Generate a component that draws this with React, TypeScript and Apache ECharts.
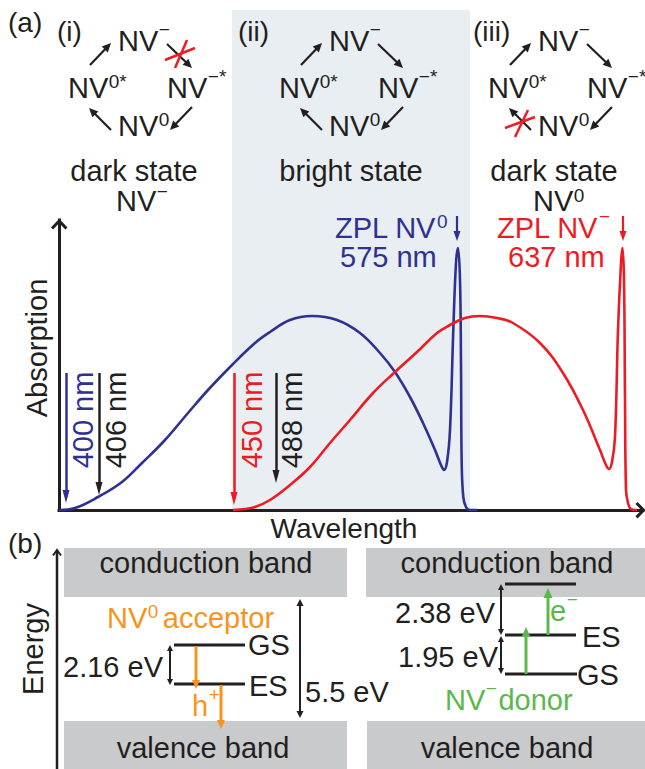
import React, { useEffect, useRef } from 'react';
import * as echarts from 'echarts';

// Schematic absorption spectra (x: position along the wavelength axis, y: absorption, arbitrary units)
const nv0X = [0, 16, 39, 63, 83, 106, 129, 149, 173, 196, 211, 231, 253, 278, 301, 321, 336, 351, 364, 376, 382, 385, 388, 391, 394.3, 397, 399, 401, 402, 402.7, 404.3, 407, 411, 418];
const nv0Y = [0, 2, 13, 28, 47, 70, 97, 120, 145, 167, 178, 190, 194, 190, 177, 157, 138, 113, 87, 60, 45, 40, 48, 80, 180, 247, 262, 230, 147, 47, 13, 3, 0, 0];
const nvmX = [174, 186, 196, 211, 231, 251, 271, 291, 314, 336, 358, 378, 391, 406, 421, 438, 454, 481, 504, 524, 541, 547, 550, 553, 556, 559, 562, 563.5, 565, 566, 567, 569, 572, 578];
const nvmY = [0, 1, 3, 10, 25, 43, 67, 90, 117, 138, 158, 177, 185, 192, 194, 192, 187, 167, 137, 100, 60, 45, 41, 48, 73, 180, 247, 262, 230, 113, 20, 7, 1, 0];

// excitation wavelength markers
const markerLabels = ['400 nm', '406 nm', '450 nm', '488 nm'];
const markerX = [7, 40, 175, 217];
const markerTop = [137, 137, 137, 137];
const markerTip = [7, 15, 5, 27];

const BLACK = '#231f20';
const BLUE = '#2e3192';
const RED = '#ed1c24';
const ORANGE = '#f7941d';
const GREEN = '#5bb84c';
const GRAY = '#c9cacc';
const SHADE = '#e8eef1';
const markerColors = [BLUE, BLACK, RED, BLACK];
const F = '"Liberation Sans", Arial, Helvetica, sans-serif';

let mctx: CanvasRenderingContext2D | null = null;
function mw(t: string, size: number) {
  if (!mctx) mctx = document.createElement('canvas').getContext('2d');
  mctx!.font = `${size}px "Liberation Sans", Arial, sans-serif`;
  return mctx!.measureText(t).width;
}

function T(x: number, y: number, text: string, opt: any = {}) {
  const size = opt.size || 29;
  return {
    type: 'text', x, y, rotation: opt.rot || 0, z: 20, silent: true,
    style: {
      text, fill: opt.color || BLACK, fontSize: size, fontFamily: F,
      align: opt.align || 'left', verticalAlign: 'middle', lineHeight: opt.lh || Math.round(size * 0.72),
    },
  };
}

function ST(x: number, y: number, main: string, sup: string, color = BLACK, after = '', gap = 4, size = 29, supSize = 19, riseOverride?: number) {
  const els: any[] = [T(x, y, main, { size, color })];
  const w = mw(main, size);
  const rise = riseOverride ?? (sup.startsWith('−') || sup === '+' ? 12 : 7);
  els.push(T(x + w + 0.5, y - rise, sup, { size: supSize, color, lh: 10 }));
  if (after) els.push(T(x + w + mw(sup, supSize) + gap, y, after, { size, color }));
  return els;
}

function L(x1: number, y1: number, x2: number, y2: number, color = BLACK, w = 2.5) {
  return { type: 'line', z: 15, silent: true, shape: { x1, y1, x2, y2 }, style: { stroke: color, lineWidth: w } };
}

function headPts(tx: number, ty: number, fx: number, fy: number, len: number, half: number) {
  const dx = tx - fx, dy = ty - fy;
  const d = Math.hypot(dx, dy);
  const ux = dx / d, uy = dy / d;
  const bx = tx - ux * len, by = ty - uy * len;
  return [[tx, ty], [bx - uy * half, by + ux * half], [bx + uy * half, by - ux * half]];
}

function arrow(x1: number, y1: number, x2: number, y2: number, color = BLACK, w = 2, len = 9, half = 4, both = false) {
  const d = Math.hypot(x2 - x1, y2 - y1);
  const ux = (x2 - x1) / d, uy = (y2 - y1) / d;
  const sx = both ? x1 + ux * len * 0.8 : x1, sy = both ? y1 + uy * len * 0.8 : y1;
  const ex = x2 - ux * len * 0.8, ey = y2 - uy * len * 0.8;
  const els: any[] = [L(sx, sy, ex, ey, color, w)];
  els.push({ type: 'polygon', z: 15, silent: true, shape: { points: headPts(x2, y2, x1, y1, len, half) }, style: { fill: color } });
  if (both) els.push({ type: 'polygon', z: 15, silent: true, shape: { points: headPts(x1, y1, x2, y2, len, half) }, style: { fill: color } });
  return els;
}

function cycle(dx: number) {
  const els: any[] = [];
  els.push(...ST(118 + dx, 41, 'NV', '−'));
  els.push(...ST(68 + dx, 88, 'NV', '0*'));
  els.push(...ST(167 + dx, 88, 'NV', '−*'));
  els.push(...ST(118 + dx, 126, 'NV', '0'));
  els.push(...arrow(90 + dx, 65, 111 + dx, 43, BLACK, 2.2, 9, 4.2));
  els.push(...arrow(167 + dx, 44, 192 + dx, 68, BLACK, 2.2, 9, 4.2));
  els.push(...arrow(192 + dx, 107, 170 + dx, 130, BLACK, 2.2, 9, 4.2));
  els.push(...arrow(111 + dx, 130, 89 + dx, 108, BLACK, 2.2, 9, 4.2));
  return els;
}

function buildGraphics() {
  const g: any[] = [];
  // bright-state band
  g.push({ type: 'rect', z: -5, silent: true, shape: { x: 232, y: 10, width: 238, height: 500 }, style: { fill: SHADE } });

  // panel (a) header
  g.push(T(8, 22, '(a)', { size: 28 }));
  g.push(T(57, 31, '(i)', { size: 28 }));
  g.push(T(238, 31, '(ii)', { size: 28 }));
  g.push(T(473, 31, '(iii)', { size: 28 }));
  g.push(...cycle(0));
  g.push(...cycle(211));
  g.push(...cycle(420));
  // red crosses
  g.push(L(165, 60, 195, 48, RED, 2.5), L(175, 68, 187, 40, RED, 2.5));
  g.push(L(505, 128, 535, 117, RED, 2.5), L(515, 137, 528, 110, RED, 2.5));

  g.push(T(134, 171, 'dark state', { align: 'center', lh: 20 }));
  g.push(...ST(116, 201, 'NV', '−', BLACK, '', 4, 29, 19, 10));
  g.push(T(351, 171, 'bright state', { align: 'center', lh: 20 }));
  g.push(T(554, 171, 'dark state', { align: 'center', lh: 20 }));
  g.push(...ST(533, 201, 'NV', '0', BLACK, '', 4, 29, 19, 6));

  // ZPL labels
  g.push(...ST(335, 228, 'ZPL NV', '0', BLUE));
  g.push(T(340, 257, '575 nm', { color: BLUE }));
  g.push(...ST(497, 228, 'ZPL NV', '−', RED));
  g.push(T(508, 257, '637 nm', { color: RED }));
  g.push(...arrow(457, 216, 457, 241, BLUE, 2.2, 10, 3.5));
  g.push(...arrow(623, 216, 623, 241, RED, 2.2, 10, 3.5));

  // axis arrowheads and titles
  g.push({ type: 'polyline', z: 15, silent: true, shape: { points: [[52, 228.5], [59.2, 221], [66.4, 228.5]] }, style: { stroke: BLACK, lineWidth: 3, fill: null } });
  g.push({ type: 'polyline', z: 15, silent: true, shape: { points: [[636.5, 503], [643.5, 510.2], [636.5, 517.4]] }, style: { stroke: BLACK, lineWidth: 3, fill: null } });
  g.push(T(37, 348, 'Absorption', { align: 'center', rot: Math.PI / 2 }));
  g.push(T(344, 528, 'Wavelength', { align: 'center', size: 28 }));

  // marker labels
  const lx = [82.5, 116, 251.5, 292];
  markerLabels.forEach((t, i) => g.push(T(lx[i], 420, t, { align: 'center', rot: Math.PI / 2, color: markerColors[i] })));

  // panel (b)
  g.push(T(8, 543, '(b)', { size: 28 }));
  g.push(L(57, 551, 57, 769, BLACK, 2.5));
  g.push({ type: 'polyline', z: 15, silent: true, shape: { points: [[53, 555.5], [57, 550], [61, 555.5]] }, style: { stroke: BLACK, lineWidth: 2, fill: null } });
  g.push(T(32.5, 649, 'Energy', { align: 'center', rot: Math.PI / 2 }));

  g.push({ type: 'rect', z: 5, silent: true, shape: { x: 64, y: 548, width: 283, height: 49 }, style: { fill: GRAY } });
  g.push({ type: 'rect', z: 5, silent: true, shape: { x: 366, y: 548, width: 279, height: 49 }, style: { fill: GRAY } });
  g.push({ type: 'rect', z: 5, silent: true, shape: { x: 64, y: 721, width: 283, height: 48 }, style: { fill: GRAY } });
  g.push({ type: 'rect', z: 5, silent: true, shape: { x: 367, y: 721, width: 278, height: 48 }, style: { fill: GRAY } });
  g.push(T(206, 563, 'conduction band', { align: 'center' }));
  g.push(T(507, 563, 'conduction band', { align: 'center' }));
  g.push(T(203, 748, 'valence band', { align: 'center' }));
  g.push(T(507, 748, 'valence band', { align: 'center' }));

  // NV0 acceptor
  g.push(...ST(107, 618, 'NV', '0', ORANGE, 'acceptor', 5));
  g.push(L(174, 645, 245, 645, BLACK, 3));
  g.push(L(174, 684, 245, 684, BLACK, 3));
  g.push(T(248, 645, 'GS'));
  g.push(T(249, 686, 'ES'));
  g.push(...arrow(170, 645, 170, 685, BLACK, 2, 6, 3, true));
  g.push(T(63, 667, '2.16 eV'));
  g.push(...arrow(196, 646, 196, 689, ORANGE, 3, 9, 4));
  g.push(...arrow(221, 685, 221, 729, ORANGE, 3, 9, 4));
  g.push(...ST(192, 706, 'h', '+', ORANGE, '', 0, 29, 19));
  g.push(...arrow(300, 599, 300, 718, BLACK, 2, 7, 3.5, true));
  g.push(T(305, 692, '5.5 eV'));

  // NV- donor
  g.push(L(505, 584, 576, 584, BLACK, 3));
  g.push(L(505, 635, 576, 635, BLACK, 3));
  g.push(L(505, 674, 577, 674, BLACK, 3));
  g.push(T(582, 637, 'ES'));
  g.push(T(577, 675, 'GS'));
  g.push(...arrow(501, 584, 501, 635, BLACK, 2, 6, 3, true));
  g.push(...arrow(501, 636, 501, 674, BLACK, 2, 6, 3, true));
  g.push(T(395, 613, '2.38 eV'));
  g.push(T(398, 657, '1.95 eV'));
  g.push(...arrow(526, 674, 526, 627, GREEN, 3, 10, 4.5));
  g.push(...arrow(548, 635, 548, 588, GREEN, 3, 10, 4.5));
  g.push(...ST(550, 611, 'e', '−', GREEN, '', 0, 29, 19));
  g.push(...ST(445, 700, 'NV', '−', GREEN, 'donor', 2));
  return g;
}

export default function App() {
  const ref = useRef<HTMLDivElement>(null);
  useEffect(() => {
    if (!ref.current) return;
    const chart = echarts.init(ref.current, null, { renderer: 'svg' });
    const ARROW_H = 13;
    const markerData = markerX.map((x, i) => [
      { coord: [x, markerTop[i]], lineStyle: { color: markerColors[i], width: 2.5, type: 'solid' } },
      { coord: [x, markerTip[i] + ARROW_H / 2] },
    ]);
    chart.setOption({
      animation: false,
      grid: { left: 59, top: 220, width: 584, height: 290, show: false },
      xAxis: {
        type: 'value', min: 0, max: 584,
        axisLine: { show: true, onZero: false, lineStyle: { color: BLACK, width: 3, cap: 'square' } },
        axisTick: { show: false }, axisLabel: { show: false }, splitLine: { show: false },
      },
      yAxis: {
        type: 'value', min: 0, max: 290,
        axisLine: { show: true, onZero: false, lineStyle: { color: BLACK, width: 3, cap: 'square' } },
        axisTick: { show: false }, axisLabel: { show: false }, splitLine: { show: false },
      },
      series: [
        {
          type: 'line', name: 'NV0', data: nv0X.map((x, i) => [x, nv0Y[i]]),
          showSymbol: false, symbol: 'none', smooth: 0.4, clip: false,
          lineStyle: { color: BLUE, width: 2.6 }, z: 3, silent: true,
          markLine: {
            silent: true, animation: false, symbol: ['none', 'triangle'], symbolSize: [7, ARROW_H],
            label: { show: false }, emphasis: { disabled: true },
            lineStyle: { type: 'solid', width: 2.5 },
            data: markerData,
          },
        },
        {
          type: 'line', name: 'NV-', data: nvmX.map((x, i) => [x, nvmY[i]]),
          showSymbol: false, symbol: 'none', smooth: 0.4, clip: false,
          lineStyle: { color: RED, width: 2.6 }, z: 3, silent: true,
        },
      ],
      graphic: { elements: buildGraphics() },
    });
    return () => chart.dispose();
  }, []);
  return <div ref={ref} style={{ position: 'absolute', left: 0, top: 0, width: 645, height: 769 }} />;
}
